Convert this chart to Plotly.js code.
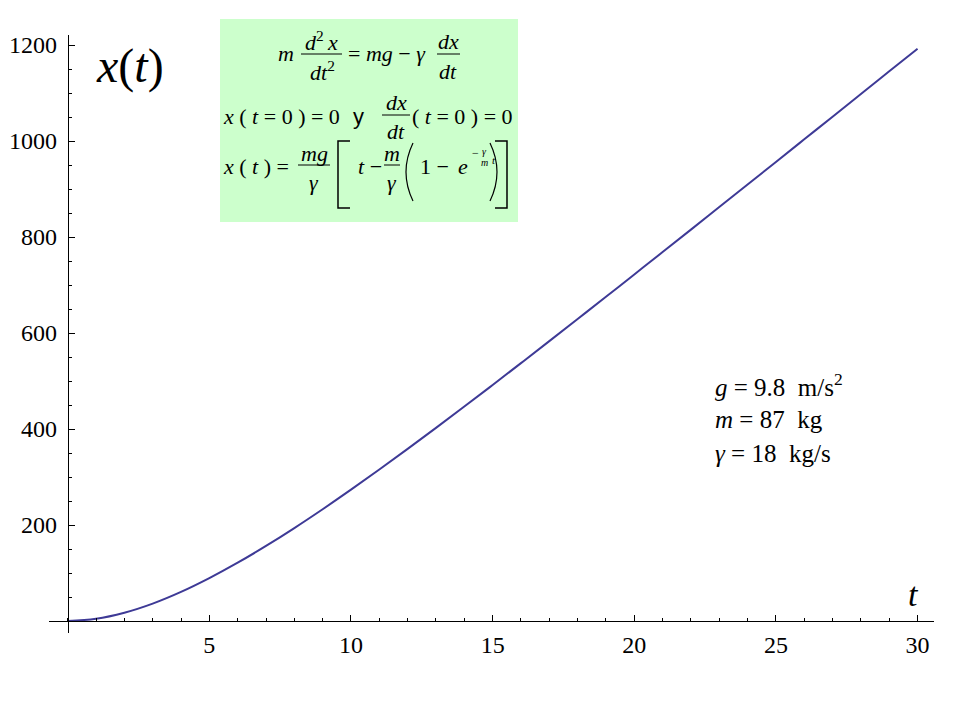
<!DOCTYPE html>
<html>
<head>
<meta charset="utf-8">
<script src="https://cdn.plot.ly/plotly-3.0.1.min.js"></script>
</head>
<body style="margin:0">
<div id="chart" style="width:960px;height:720px"></div>
<script>
// Data
const tValues = [0,1,2,3,4,5,6,7,8,9,10,11,12,13,14,15,16,17,18,19,20,21,22,23,24,25,26,27,28,29,30];
const xValues = [0,4.6,17.2,36.2,60.6,89.3,121.4,156.4,193.7,232.9,273.6,315.6,358.6,402.4,446.8,491.8,537.3,583.1,629.2,675.5,722.1,768.7,815.5,862.5,909.5,956.5,1003.6,1050.8,1098.0,1145.3,1192.5];
const xTickVals = [5,10,15,20,25,30];
const yTickVals = [200,400,600,800,1000,1200];
const xRange = [-0.66, 30.58];
const yRange = [-25, 1221];

const SERIF = 'Liberation Serif';
const SANS = 'Liberation Sans';
const L = 49, R = 934, TOP = 35, BOT = 633;
function P(x){ return (x - L) / (R - L); }
function Q(y){ return (BOT - y) / (BOT - TOP); }

const ann = [];
const shapes = [];
function T(x, base, text, size, anchor, family){
  ann.push({xref:'paper', yref:'paper', x:P(x), y:Q(base - 0.3*size), xanchor:anchor||'center', yanchor:'middle',
    text:text, showarrow:false, font:{family:family||SERIF, size:size, color:'#000'}});
}
function bar(x1, x2, y){
  shapes.push({type:'line', xref:'paper', yref:'paper', x0:P(x1), x1:P(x2), y0:Q(y), y1:Q(y), line:{color:'#000', width:1}});
}
function path(d, w){
  let s = '';
  d.forEach(seg => {
    s += seg[0];
    for (let i = 1; i < seg.length; i += 2) s += ' ' + P(seg[i]).toFixed(5) + ',' + Q(seg[i+1]).toFixed(5);
    s += ' ';
  });
  shapes.push({type:'path', xref:'paper', yref:'paper', path:s.trim(), line:{color:'#000', width:w}});
}

// green box
shapes.push({type:'rect', xref:'paper', yref:'paper', x0:P(220), x1:P(518), y0:Q(19), y1:Q(222),
  fillcolor:'#ccffcc', line:{width:0}, layer:'below'});

const FS = 22;
// Line 1
T(286, 60, '<i>m</i>', FS);
T(321, 48, '<i>d</i><sup>2</sup>&#8201;<i>x</i>', FS);
bar(301, 342, 54);
T(322, 78, '<i>dt</i><sup>2</sup>', FS);
T(387, 60, '= <i>mg</i> − <i>γ</i>', FS);
T(448, 48, '<i>dx</i>', FS);
bar(437, 460, 54);
T(448, 78, '<i>dt</i>', FS);

// Line 2
T(281, 123, '<i>x</i> ( <i>t</i> = 0 ) = 0', FS);
T(358, 123, 'y', FS, 'center', SANS);
T(396, 109, '<i>dx</i>', FS);
bar(382, 410, 115);
T(396, 138, '<i>dt</i>', FS);
T(462, 123, '( <i>t</i> = 0 ) = 0', FS);

// Line 3
T(256, 173, '<i>x</i> ( <i>t</i> ) =', FS);
T(314, 160, '<i>mg</i>', FS);
bar(298, 330, 165);
T(314, 189, '<i>γ</i>', FS);
path([['M',350,141],['L',338,141],['L',338,208],['L',350,208]], 1.5);
T(370, 173, '<i>t</i> −', FS);
T(392, 160, '<i>m</i>', FS);
bar(384, 400, 165);
T(392, 189, '<i>γ</i>', FS);
path([['M',413,143],['Q',399,172,413,201]], 1.2);
T(434, 173, '1 −', FS);
T(463, 173, '<i>e</i>', FS);
T(475, 157, '−', 12);
T(484, 154, '<i>γ</i>', 10);
T(484, 165, '<i>m</i>', 10);
T(494, 163, '<i>t</i>', 11);
path([['M',490,143],['Q',504,172,490,201]], 1.2);
path([['M',495,141],['L',507,141],['L',507,208],['L',495,208]], 1.5);

// axis labels
T(130, 80, '<i>x</i>(<i>t</i>)', 48);
T(913, 605, '<i>t</i>', 34);

// parameters
T(713, 392, '<i>g</i>&#160;=&#160;9.8&#160;&#160;m/s<sup>2</sup>', 25, 'left');
T(713, 427, '<i>m</i>&#160;=&#160;87&#160;&#160;kg', 25, 'left');
T(713, 461, '<i>γ</i>&#160;=&#160;18&#160;&#160;kg/s', 25, 'left');

const trace = {x:tValues, y:xValues, type:'scatter', mode:'lines',
  line:{color:'#3e3a96', width:2, shape:'spline', smoothing:1}, hoverinfo:'skip'};

const tickFont = {family:SERIF, size:24, color:'#000'};
const layout = {
  width:960, height:720,
  font:{family:SERIF, size:22, color:'#000'},
  margin:{l:L, r:960-R, t:TOP, b:720-BOT, pad:0},
  paper_bgcolor:'#ffffff', plot_bgcolor:'rgba(0,0,0,0)',
  showlegend:false,
  xaxis:{range:xRange, anchor:'free', position:(0 - yRange[0])/(yRange[1]-yRange[0]),
    showgrid:false, zeroline:false, showline:true, linecolor:'#000', linewidth:1,
    tickmode:'array', tickvals:xTickVals, ticks:'inside', ticklen:6, tickcolor:'#000', tickwidth:1,
    tickfont:tickFont, ticklabelstandoff:2,
    minor:{tickmode:'linear', tick0:0, dtick:1, ticks:'inside', ticklen:3, tickcolor:'#000', tickwidth:1, showgrid:false}},
  yaxis:{range:yRange, anchor:'free', position:(0 - xRange[0])/(xRange[1]-xRange[0]),
    showgrid:false, zeroline:false, showline:true, linecolor:'#000', linewidth:1,
    tickmode:'array', tickvals:yTickVals, ticks:'inside', ticklen:6, tickcolor:'#000', tickwidth:1,
    tickfont:tickFont, ticklabelstandoff:6,
    minor:{tickmode:'linear', tick0:0, dtick:50, ticks:'inside', ticklen:3, tickcolor:'#000', tickwidth:1, showgrid:false}},
  annotations:ann,
  shapes:shapes
};
Plotly.newPlot('chart', [trace], layout, {displayModeBar:false});
</script>
</body>
</html>
